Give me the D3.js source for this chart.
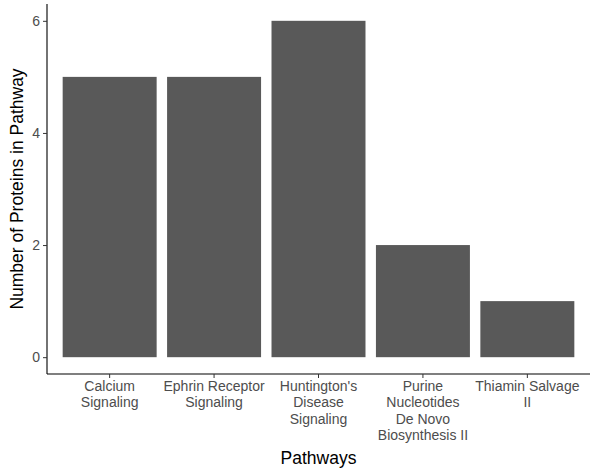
<!DOCTYPE html>
<html>
<head>
<meta charset="utf-8">
<script src="https://cdn.jsdelivr.net/npm/d3@7"></script>
<style>
  body { margin: 0; background: #fff; }
  text { font-family: "Liberation Sans", Arial, sans-serif; }
</style>
</head>
<body>
<div id="chart"></div>
<script>
// pathway names (multi-line labels) and protein counts
const pathways = [
  ["Calcium", "Signaling"],
  ["Ephrin Receptor", "Signaling"],
  ["Huntington's", "Disease", "Signaling"],
  ["Purine", "Nucleotides", "De Novo", "Biosynthesis II"],
  ["Thiamin Salvage", "II"]
];
const counts = [5, 5, 6, 2, 1];
const yTicks = [0, 2, 4, 6];

const width = 600, height = 471;
const margin = { top: 4, right: 10, bottom: 97, left: 47 };
const innerW = width - margin.left - margin.right;
const innerH = height - margin.top - margin.bottom;

const data = pathways.map((p, i) => ({ key: p.join(" "), lines: p, value: counts[i] }));

const svg = d3.select("#chart").append("svg")
  .attr("width", width)
  .attr("height", height);

const g = svg.append("g").attr("transform", `translate(${margin.left},${margin.top})`);

// ggplot-like expansion: discrete 0.6, continuous 5%
const x = d3.scaleBand()
  .domain(data.map(d => d.key))
  .range([0, innerW])
  .paddingInner(0.1)
  .paddingOuter(0.15);

const yMax = 6;
const y = d3.scaleLinear()
  .domain([-0.05 * yMax, yMax * 1.05])
  .range([innerH, 0]);

// bars
g.selectAll("rect.bar")
  .data(data)
  .join("rect")
  .attr("class", "bar")
  .attr("x", d => x(d.key))
  .attr("width", x.bandwidth())
  .attr("y", d => y(d.value))
  .attr("height", d => y(0) - y(d.value))
  .attr("fill", "#595959");

// y axis
const yAxis = g.append("g")
  .call(d3.axisLeft(y).tickValues(yTicks).tickSize(4).tickPadding(3).tickFormat(d3.format("d")));
yAxis.select(".domain").attr("stroke", "#000").attr("stroke-width", 1.1).attr("d", `M0,0V${innerH}`);
yAxis.selectAll(".tick line").attr("stroke", "#333");
yAxis.selectAll(".tick text").attr("fill", "#4d4d4d").attr("font-size", 14);

// x axis
const xAxis = g.append("g")
  .attr("transform", `translate(0,${innerH})`)
  .call(d3.axisBottom(x).tickSize(4).tickPadding(3));
xAxis.select(".domain").attr("stroke", "#000").attr("stroke-width", 1.1).attr("d", `M0,0H${innerW}`);
xAxis.selectAll(".tick line").attr("stroke", "#333");
xAxis.selectAll(".tick text").each(function (d) {
  const item = data.find(e => e.key === d);
  const t = d3.select(this).text(null).attr("fill", "#4d4d4d").attr("font-size", 14);
  item.lines.forEach((line, i) => {
    t.append("tspan").attr("x", 0).attr("dy", i === 0 ? "0.71em" : "1.18em").text(line);
  });
});

// axis titles
svg.append("text")
  .attr("x", margin.left + innerW / 2)
  .attr("y", 464)
  .attr("text-anchor", "middle")
  .attr("font-size", 17.5)
  .attr("fill", "#000")
  .text("Pathways");

svg.append("text")
  .attr("transform", `translate(23,${margin.top + innerH / 2}) rotate(-90)`)
  .attr("text-anchor", "middle")
  .attr("font-size", 17.5)
  .attr("fill", "#000")
  .text("Number of Proteins in Pathway");
</script>
</body>
</html>
